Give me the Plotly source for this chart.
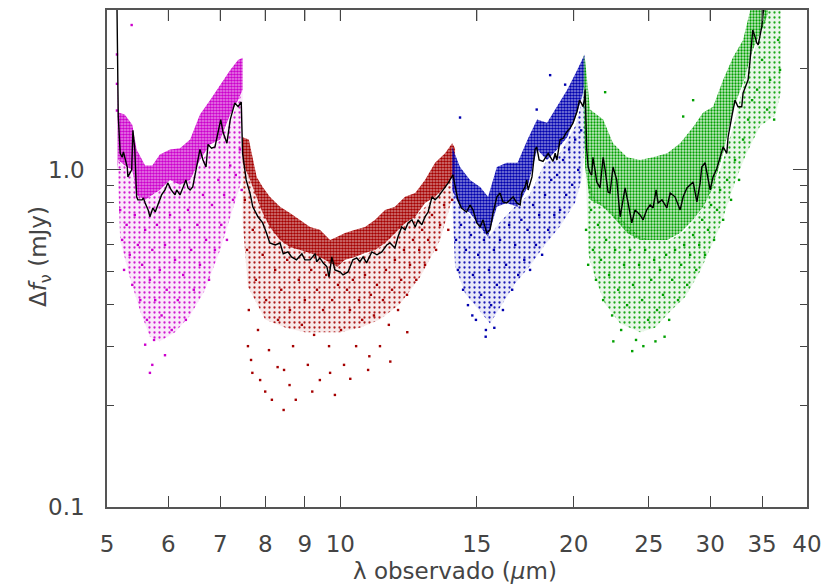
import math
import plotly.graph_objects as go

# ---------------- data ----------------
LINE_WL = [5.15, 5.17, 5.20, 5.23, 5.25, 5.31, 5.32, 5.38, 5.40, 5.43,
           5.46, 5.48, 5.55, 5.57, 5.60, 5.65, 5.68, 5.73, 5.77, 5.82,
           5.88, 5.94, 5.99, 6.05, 6.12, 6.15, 6.21, 6.27, 6.32, 6.36,
           6.40, 6.45, 6.52, 6.59, 6.65, 6.71, 6.75, 6.82, 6.89, 6.96,
           7.01, 7.06, 7.14, 7.21, 7.27, 7.31, 7.38, 7.45, 7.48, 7.56,
           7.65, 7.71, 7.83, 7.94, 8.03, 8.11, 8.24, 8.36, 8.44, 8.56,
           8.65, 8.78, 8.92, 9.00, 9.14, 9.28, 9.32, 9.41, 9.50, 9.61,
           9.67, 9.75, 9.84, 9.99, 10.08, 10.23, 10.38, 10.50, 10.60, 10.70,
           10.81, 10.98, 11.15, 11.31, 11.48, 11.59, 11.76, 11.87, 12.00, 12.12,
           12.23, 12.37, 12.49, 12.60, 12.74, 12.86, 12.98, 13.13, 13.25, 13.37,
           13.57, 13.78, 13.97, 14.06, 14.18, 14.33, 14.55, 14.70, 14.83, 15.00,
           15.15, 15.28, 15.45, 15.60, 15.74, 15.92, 16.07, 16.21, 16.39, 16.56,
           16.71, 16.89, 17.06, 17.14, 17.31, 17.40, 17.47, 17.67, 17.83, 17.92,
           18.05, 18.26, 18.54, 18.81, 18.93, 19.03, 19.21, 19.38, 19.56, 19.79,
           19.97, 20.20, 20.35, 20.45, 20.57, 20.66, 20.69, 20.75, 20.79, 20.88,
           21.00, 21.10, 21.18, 21.31, 21.42, 21.63, 21.74, 21.83, 21.96, 22.15,
           22.28, 22.48, 22.73, 22.96, 23.16, 23.30, 23.51, 23.77, 24.00, 24.36,
           24.58, 24.85, 25.10, 25.32, 25.55, 25.70, 26.00, 26.38, 26.64, 27.03,
           27.44, 27.69, 28.00, 28.27, 28.52, 28.84, 29.12, 29.26, 29.55, 30.00,
           30.26, 30.60, 30.90, 31.18, 31.52, 31.64, 31.99, 32.30, 32.59, 32.95,
           33.08, 33.45, 33.58, 33.78, 34.05, 34.28, 34.46, 34.60, 34.97, 35.11, 35.32]
LINE_DF = [3.1, 1.44, 1.12, 1.09, 1.13, 1.02, 0.953, 1.00, 1.31, 1.15,
           0.832, 0.815, 0.815, 0.826, 0.798, 0.761, 0.726, 0.771, 0.750, 0.787,
           0.843, 0.872, 0.915, 0.872, 0.843, 0.872, 0.843, 0.890, 0.934, 0.884,
           0.872, 0.890, 1.02, 1.15, 1.07, 1.02, 1.19, 1.16, 1.17, 1.30,
           1.41, 1.29, 1.20, 1.41, 1.51, 1.58, 1.54, 1.59, 1.12, 0.934,
           0.849, 0.777, 0.726, 0.696, 0.650, 0.607, 0.599, 0.607, 0.564, 0.571,
           0.552, 0.541, 0.564, 0.541, 0.541, 0.564, 0.534, 0.548, 0.530, 0.516,
           0.481, 0.552, 0.505, 0.498, 0.488, 0.498, 0.541, 0.548, 0.534, 0.552,
           0.530, 0.571, 0.560, 0.571, 0.599, 0.607, 0.587, 0.633, 0.677, 0.664,
           0.696, 0.711, 0.677, 0.711, 0.687, 0.726, 0.750, 0.832, 0.815, 0.832,
           0.872, 0.915, 0.966, 0.890, 0.815, 0.771, 0.750, 0.787, 0.761, 0.696,
           0.677, 0.711, 0.650, 0.664, 0.745, 0.832, 0.854, 0.804, 0.798, 0.815,
           0.832, 0.798, 0.787, 0.854, 0.890, 0.934, 0.872, 0.953, 1.15, 1.17,
           1.07, 1.06, 1.12, 1.06, 1.12, 1.07, 1.23, 1.24, 1.29, 1.33,
           1.38, 1.49, 1.61, 1.58, 1.54, 1.63, 1.73, 1.38, 1.15, 1.02,
           0.98, 0.966, 1.09, 1.00, 0.921, 0.884, 1.00, 1.09, 1.00, 0.860,
           0.854, 1.02, 0.934, 0.726, 0.815, 0.884, 0.798, 0.696, 0.761, 0.735,
           0.711, 0.761, 0.787, 0.771, 0.872, 0.798, 0.815, 0.771, 0.854, 0.832,
           0.761, 0.832, 0.884, 0.903, 0.921, 0.804, 0.915, 1.02, 1.05, 0.872,
           0.953, 1.01, 1.09, 1.17, 1.12, 1.25, 1.44, 1.61, 1.54, 1.54,
           1.69, 1.82, 1.85, 2.12, 2.60, 2.48, 2.38, 2.35, 2.66, 2.92, 3.1]

# dense part of each module's cloud (upper / lower edge)
MAG_BAND_WL = [5.16, 5.17, 5.27, 5.39, 5.46, 5.60, 5.72, 5.85, 6.03, 6.21, 6.40, 6.59, 6.79, 7.00, 7.21, 7.38, 7.48]
MAG_BAND_HI = [2.3, 1.48, 1.46, 1.36, 1.15, 1.03, 1.03, 1.11, 1.15, 1.16, 1.23, 1.46, 1.61, 1.79, 1.98, 2.12, 2.15]
MAG_BAND_LO = [1.0, 1.07, 1.03, 1.00, 0.843, 0.815, 0.843, 0.872, 0.934, 0.903, 0.934, 1.07, 1.19, 1.23, 1.46, 1.61, 1.73]

RED_BAND_WL = [7.48, 7.62, 7.80, 7.94, 8.11, 8.36, 8.61, 8.87, 9.14, 9.41, 9.70, 9.91, 10.14,
               10.45, 10.76, 11.09, 11.42, 11.76, 12.12, 12.49, 12.86, 13.25, 13.65, 13.94, 14.06]
RED_BAND_HI = [1.25, 1.23, 0.953, 0.890, 0.832, 0.777, 0.745, 0.711, 0.677, 0.664, 0.620, 0.633, 0.650,
               0.664, 0.677, 0.711, 0.761, 0.777, 0.832, 0.854, 0.934, 1.05, 1.12, 1.20, 1.16]
RED_BAND_LO = [1.05, 0.953, 0.832, 0.745, 0.677, 0.620, 0.591, 0.579, 0.567, 0.552, 0.530, 0.516, 0.541,
               0.552, 0.567, 0.579, 0.607, 0.650, 0.696, 0.726, 0.798, 0.832, 0.890, 0.953, 0.903]

BLU_BAND_WL = [13.94, 14.27, 14.70, 15.15, 15.51, 15.92, 16.39, 16.93, 17.44, 17.94, 18.48, 19.04, 19.62, 20.21, 20.51, 20.66]
BLU_BAND_HI = [1.17, 1.02, 0.934, 0.890, 0.832, 1.02, 1.05, 1.05, 1.23, 1.41, 1.38, 1.54, 1.73, 1.98, 2.12, 2.2]
BLU_BAND_LO = [0.872, 0.777, 0.745, 0.677, 0.633, 0.777, 0.798, 0.777, 0.890, 1.15, 1.07, 1.15, 1.25, 1.48, 1.65, 1.8]

GRN_BAND_WL = [20.60, 20.69, 21.00, 21.83, 22.48, 23.44, 24.36, 25.32, 26.41, 27.44, 28.52, 29.38, 30.26,
               31.18, 32.11, 33.08, 34.05, 35.11, 35.6]
GRN_BAND_HI = [2.2, 2.12, 1.51, 1.41, 1.20, 1.09, 1.07, 1.09, 1.12, 1.20, 1.34, 1.48, 1.54,
               1.85, 2.16, 2.43, 3.2, 3.2, 3.2]
GRN_BAND_LO = [1.6, 1.02, 0.815, 0.777, 0.726, 0.650, 0.620, 0.620, 0.620, 0.650, 0.711, 0.777, 0.890,
               1.12, 1.51, 1.81, 2.27, 2.66, 2.9]

# sparse part of each cloud (upper / lower edge)
MAG_CLOUD_WL = [5.17, 5.20, 5.35, 5.52, 5.68, 5.85, 6.12, 6.40, 6.69, 7.00, 7.31, 7.48]
MAG_CLOUD_HI = [1.07, 1.05, 1.00, 0.83, 0.83, 0.87, 0.93, 0.93, 1.10, 1.23, 1.5, 1.73]
MAG_CLOUD_LO = [0.9, 0.62, 0.48, 0.38, 0.32, 0.31, 0.33, 0.37, 0.44, 0.58, 0.80, 0.95]

RED_CLOUD_WL = [7.48, 7.60, 8.0, 8.5, 9.0, 9.5, 10.0, 10.6, 11.25, 11.94, 12.67, 13.45, 13.94, 14.06]
RED_CLOUD_HI = [1.05, 0.96, 0.73, 0.61, 0.58, 0.55, 0.53, 0.55, 0.59, 0.69, 0.75, 0.86, 0.95, 0.9]
RED_CLOUD_LO = [0.7, 0.45, 0.36, 0.34, 0.33, 0.33, 0.33, 0.34, 0.36, 0.40, 0.48, 0.62, 0.82, 0.9]

BLU_CLOUD_WL = [13.94, 14.06, 14.49, 15.15, 15.60, 16.07, 16.81, 17.57, 18.37, 19.21, 20.09, 20.51, 20.66]
BLU_CLOUD_HI = [0.88, 0.85, 0.76, 0.68, 0.64, 0.70, 0.78, 0.85, 1.05, 1.12, 1.35, 1.6, 1.8]
BLU_CLOUD_LO = [0.8, 0.52, 0.43, 0.38, 0.35, 0.39, 0.46, 0.52, 0.60, 0.68, 0.80, 0.95, 1.2]

GRN_CLOUD_WL = [20.60, 20.9, 21.3, 21.96, 22.96, 24.36, 25.47, 26.64, 27.85, 29.12, 30.9, 32.3, 33.3,
                34.8, 35.6, 36.4, 37.0]
GRN_CLOUD_HI = [1.6, 0.95, 0.82, 0.78, 0.72, 0.63, 0.62, 0.62, 0.66, 0.75, 1.0, 1.4, 1.9,
                2.5, 3.2, 3.2, 3.2]
GRN_CLOUD_LO = [1.5, 0.56, 0.48, 0.40, 0.35, 0.33, 0.34, 0.38, 0.42, 0.50, 0.68, 0.92, 1.1,
                1.35, 1.4, 1.45, 1.7]

# individual scattered points
MAG_DOT_WL = [5.20, 5.23, 5.26, 5.30, 5.35, 5.39, 5.43, 5.48, 5.52, 5.55,
              5.60, 5.63, 5.68, 5.72, 5.75, 5.77, 5.80, 5.85, 5.88, 5.94,
              5.97, 6.03, 6.06, 6.12, 6.17, 6.21, 6.27, 6.32, 6.36, 6.42,
              6.47, 6.54, 6.59, 6.65, 6.71, 6.77, 6.83, 6.89, 6.96, 7.02,
              7.08, 7.14, 7.21, 7.27, 7.33, 7.42, 7.46,
              5.72, 5.94, 5.60, 5.38, 5.15, 5.15, 5.15, 5.68]
MAG_DOT_DF = [0.76, 0.62, 0.505, 0.687, 0.56, 0.456, 0.735, 0.599, 0.411, 0.523,
              0.664, 0.359, 0.472, 0.579, 0.313, 0.411, 0.687, 0.505, 0.37, 0.599,
              0.441, 0.735, 0.335, 0.541, 0.411, 0.664, 0.488, 0.359, 0.761, 0.579,
              0.441, 0.687, 0.523, 0.843, 0.62, 0.472, 0.787, 0.579, 0.934, 0.687,
              0.843, 0.62, 1.03, 0.815, 0.966, 1.15, 0.872,
              0.264, 0.282, 0.303, 2.69, 2.2, 1.8, 1.5, 0.25]

RED_DOT_WL = [7.53, 7.58, 7.62, 7.67, 7.71, 7.78, 7.83, 7.88, 7.94, 8.02,
              8.09, 8.16, 8.24, 8.31, 8.39, 8.46, 8.54, 8.61, 8.69, 8.76,
              8.84, 8.92, 9.00, 9.08, 9.17, 9.25, 9.33, 9.41, 9.50, 9.59,
              9.67, 9.76, 9.84, 9.93, 10.02, 10.11, 10.20, 10.29, 10.38, 10.48,
              10.57, 10.67, 10.76, 10.86, 10.95, 11.05, 11.15, 11.25, 11.35, 11.45,
              11.55, 11.66, 11.76, 11.87, 11.98, 12.08, 12.19, 12.30, 12.41, 12.53,
              12.64, 12.75, 12.86, 12.98, 13.13, 13.29, 13.45, 13.61, 13.78, 13.94,
              7.60, 7.70, 8.00, 8.30, 8.45, 8.60, 9.20, 9.70, 10.30, 10.90, 11.60, 12.20]
RED_DOT_DF = [0.815, 0.579, 0.384, 0.273, 0.664, 0.472, 0.335, 0.238, 0.56, 0.411,
              0.292, 0.208, 0.505, 0.359, 0.441, 0.255, 0.541, 0.384, 0.30, 0.208,
              0.472, 0.347, 0.411, 0.264, 0.505, 0.324, 0.441, 0.238, 0.384, 0.488,
              0.30, 0.411, 0.215, 0.456, 0.335, 0.264, 0.441, 0.384, 0.472, 0.30,
              0.411, 0.359, 0.488, 0.255, 0.426, 0.37, 0.456, 0.30, 0.411, 0.505,
              0.347, 0.441, 0.541, 0.384, 0.472, 0.579, 0.426, 0.523, 0.62, 0.472,
              0.579, 0.664, 0.523, 0.62, 0.735, 0.579, 0.687, 0.787, 0.664, 0.815,
              0.30, 0.25, 0.22, 0.26, 0.194, 0.23, 0.22, 0.25, 0.24, 0.28, 0.27, 0.33]

BLU_DOT_WL = [14.10, 14.18, 14.31, 14.40, 14.52, 14.61, 14.74, 14.83, 14.96, 15.06,
              15.19, 15.32, 15.41, 15.55, 15.65, 15.78, 15.92, 16.07, 16.21, 16.36,
              16.51, 16.66, 16.81, 16.96, 17.12, 17.27, 17.44, 17.57, 17.73, 17.88,
              18.05, 18.21, 18.37, 18.54, 18.71, 18.88, 19.04, 19.21, 19.38, 19.56,
              19.73, 19.91, 20.09, 20.27, 20.45, 19.50, 18.65, 14.27, 17.92,
              15.40, 15.80, 14.80]
BLU_DOT_DF = [0.62, 0.505, 0.687, 0.441, 0.579, 0.397, 0.641, 0.488, 0.359, 0.56,
              0.426, 0.62, 0.335, 0.505, 0.397, 0.579, 0.456, 0.62, 0.384, 0.523,
              0.687, 0.441, 0.599, 0.488, 0.711, 0.541, 0.664, 0.505, 0.787, 0.599,
              0.735, 0.56, 0.843, 0.664, 0.934, 0.735, 0.966, 0.761, 1.07, 0.843,
              1.15, 0.903, 1.23, 1.00, 1.31, 1.79, 1.91, 1.43, 1.51,
              0.32, 0.34, 0.37]

GRN_DOT_WL = [20.75, 20.88, 21.06, 21.18, 21.37, 21.50, 21.69, 21.83, 22.02, 22.22,
              22.42, 22.62, 22.83, 23.03, 23.23, 23.44, 23.65, 23.86, 24.07, 24.29,
              24.51, 24.73, 24.95, 25.18, 25.40, 25.62, 25.85, 26.08, 26.32, 26.56,
              26.80, 27.03, 27.27, 27.52, 27.77, 28.02, 28.27, 28.52, 28.78, 29.04,
              29.30, 29.55, 29.81, 30.08, 30.35, 30.62, 30.90, 31.18, 31.55, 31.92,
              32.30, 32.69, 33.08, 33.58, 33.98, 34.49, 35.0, 35.53, 35.85, 36.28,
              36.71, 36.92, 21.96, 28.52, 27.69,
              22.5, 23.8, 24.6, 25.5, 26.2]
GRN_DOT_DF = [0.664, 0.523, 0.761, 0.579, 0.472, 0.687, 0.541, 0.411, 0.62, 0.488,
              0.37, 0.579, 0.441, 0.335, 0.523, 0.397, 0.579, 0.456, 0.313, 0.523,
              0.411, 0.579, 0.359, 0.472, 0.541, 0.384, 0.505, 0.426, 0.56, 0.359,
              0.472, 0.579, 0.411, 0.523, 0.599, 0.456, 0.56, 0.641, 0.505, 0.599,
              0.711, 0.56, 0.664, 0.787, 0.62, 0.761, 0.872, 0.711, 0.934, 0.815,
              1.07, 0.934, 1.23, 1.41, 1.61, 1.73, 2.12, 1.51, 1.85, 1.41,
              2.43, 1.98, 1.70, 1.61, 1.44,
              0.31, 0.29, 0.30, 0.31, 0.32]

X_TICKS = [5, 6, 7, 8, 9, 10, 15, 20, 25, 30, 35, 40]
X_TICK_TEXT = ["5", "6", "7", "8", "9", "10", "15", "20", "25", "30", "35", "40"]
Y_TICKS = [0.1, 1.0]
Y_TICK_TEXT = ["0.1", "1.0"]
Y_MINOR = [0.2, 0.3, 0.4, 0.5, 0.6, 0.7, 0.8, 0.9, 2.0, 3.0]

X_TITLE = "λ observado (<i>μ</i>m)"
Y_TITLE = "Δ<i>f</i><sub>ν</sub> (mJy)"

MODULES = [
    ("magenta", (204, 0, 204), MAG_BAND_WL, MAG_BAND_HI, MAG_BAND_LO,
     MAG_CLOUD_WL, MAG_CLOUD_HI, MAG_CLOUD_LO, MAG_DOT_WL, MAG_DOT_DF, 0.45, 0.6),
    ("red", (165, 0, 0), RED_BAND_WL, RED_BAND_HI, RED_BAND_LO,
     RED_CLOUD_WL, RED_CLOUD_HI, RED_CLOUD_LO, RED_DOT_WL, RED_DOT_DF, 0.45, 0.6),
    ("blue", (0, 0, 175), BLU_BAND_WL, BLU_BAND_HI, BLU_BAND_LO,
     BLU_CLOUD_WL, BLU_CLOUD_HI, BLU_CLOUD_LO, BLU_DOT_WL, BLU_DOT_DF, 0.42, 0.6),
    ("green", (0, 160, 0), GRN_BAND_WL, GRN_BAND_HI, GRN_BAND_LO,
     GRN_CLOUD_WL, GRN_CLOUD_HI, GRN_CLOUD_LO, GRN_DOT_WL, GRN_DOT_DF, 0.22, 0.45),
]

X_RANGE = [math.log10(X_TICKS[0]), math.log10(X_TICKS[-1])]
Y_RANGE = [-1.0, 0.4743]

# ---------------- figure ----------------
fig = go.Figure()


def rgba(c, a):
    return "rgba(%d,%d,%d,%.2f)" % (c[0], c[1], c[2], a)


for name, col, bwl, bhi, blo, cwl, chi, clo, dwl, ddf, bga, sol in MODULES:
    # sparse cloud: faint tint with sparse stipple
    fig.add_trace(go.Scatter(
        x=list(cwl) + list(cwl)[::-1], y=list(chi) + list(clo)[::-1],
        mode="lines", fill="toself", fillcolor=rgba(col, 0.09),
        fillpattern=dict(shape=".", fgcolor=rgba(col, 0.9), bgcolor=rgba(col, 0.09),
                         size=5, solidity=0.16, fillmode="replace"),
        line=dict(width=0), hoverinfo="skip", showlegend=False))
    # dense band: tight stipple
    fig.add_trace(go.Scatter(
        x=list(bwl) + list(bwl)[::-1], y=list(bhi) + list(blo)[::-1],
        mode="lines", fill="toself", fillcolor=rgba(col, bga),
        fillpattern=dict(shape=".", fgcolor=rgba(col, 1.0), bgcolor=rgba(col, bga),
                         size=3, solidity=sol, fillmode="replace"),
        line=dict(width=0), hoverinfo="skip", showlegend=False))
    # scattered points
    fig.add_trace(go.Scatter(
        x=dwl, y=ddf, mode="markers",
        marker=dict(symbol="square", size=2.4, color=rgba(col, 1.0), line=dict(width=0)),
        hoverinfo="skip", showlegend=False))

fig.add_trace(go.Scatter(
    x=LINE_WL, y=LINE_DF, mode="lines",
    line=dict(color="black", width=1.4), showlegend=False))

PLOT_W = 825 - 107 - 18
PLOT_H = 584 - 10 - 77

# tick marks along the top frame (same positions as the bottom axis ticks)
tick_log_len = 11.0 / PLOT_H * (Y_RANGE[1] - Y_RANGE[0])
top_y0 = 10 ** Y_RANGE[1]
top_y1 = 10 ** (Y_RANGE[1] - tick_log_len)
tx, ty = [], []
for v in X_TICKS[1:-1]:
    tx += [v, v, None]
    ty += [top_y0, top_y1, None]
fig.add_trace(go.Scatter(x=tx, y=ty, mode="lines", line=dict(color="#444", width=1),
                         hoverinfo="skip", showlegend=False))

tick_font = dict(family="DejaVu Sans, Liberation Sans, Arial", size=23, color="#444444")
title_font = dict(family="DejaVu Sans, Liberation Sans, Arial", size=23, color="#444444")

fig.update_layout(
    width=825, height=584,
    margin=dict(l=107, r=18, t=10, b=77),
    paper_bgcolor="white", plot_bgcolor="white",
    font=tick_font,
    showlegend=False,
    annotations=[
        dict(text=X_TITLE, xref="paper", yref="paper",
             x=(455 - 107) / PLOT_W, y=-(571 - 507) / PLOT_H,
             xanchor="center", yanchor="middle", showarrow=False, font=title_font),
        dict(text=Y_TITLE, xref="paper", yref="paper", textangle=-90,
             x=-(107 - 40) / PLOT_W, y=(507 - 257) / PLOT_H,
             xanchor="center", yanchor="middle", showarrow=False, font=title_font),
    ],
    xaxis=dict(
        type="log", range=X_RANGE, automargin=False,
        tickmode="array", tickvals=X_TICKS, ticktext=X_TICK_TEXT,
        ticks="inside", ticklen=11, tickwidth=1, tickcolor="#444",
        ticklabelstandoff=16,
        showline=True, linecolor="#555", linewidth=1.5, mirror="ticks",
        showgrid=False, zeroline=False,
        tickfont=tick_font,
    ),
    yaxis=dict(
        type="log", range=Y_RANGE, automargin=False,
        tickmode="array", tickvals=Y_TICKS, ticktext=Y_TICK_TEXT,
        ticks="inside", ticklen=14, tickwidth=1, tickcolor="#444",
        ticklabelstandoff=16,
        minor=dict(tickmode="array", tickvals=Y_MINOR, ticks="inside",
                   ticklen=7, tickwidth=1, tickcolor="#444", showgrid=False),
        showline=True, linecolor="#555", linewidth=1.5, mirror="ticks",
        showgrid=False, zeroline=False,
        tickfont=tick_font,
    ),
)

fig.write_html("out.html")
